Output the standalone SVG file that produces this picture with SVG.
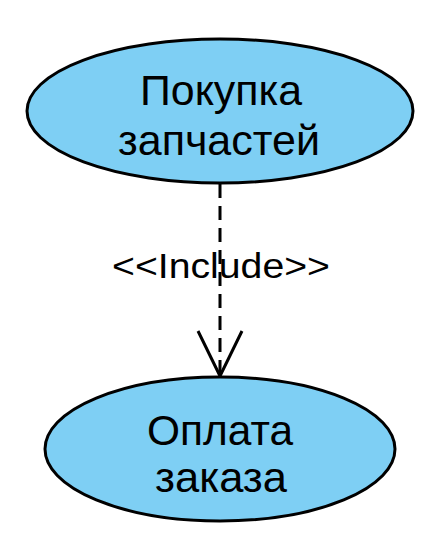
<svg xmlns="http://www.w3.org/2000/svg" width="441" height="552" viewBox="0 0 441 552">
<style>
.uc{fill:#7ecff4;stroke:#000;stroke-width:3}
.t{font-family:"Liberation Sans",Arial,sans-serif;font-size:42px;text-anchor:middle;fill:#000}
.lbl{font-family:"Liberation Sans",Arial,sans-serif;font-size:35px;text-anchor:middle;fill:#000}
.c{stroke:#000;stroke-width:3;fill:none}
</style>
<rect width="441" height="552" fill="#fff"/>
<g id="connectors">
<line class="c" x1="220" y1="184" x2="220" y2="374" stroke-dasharray="14,8"/>
<polyline class="c" points="198,331 220,376 242,331"/>
<text class="lbl" x="221" y="278" textLength="218" lengthAdjust="spacingAndGlyphs">&lt;&lt;Include&gt;&gt;</text>
</g>
<g id="node1">
<ellipse class="uc" cx="220" cy="111" rx="193" ry="72"/>
<text class="t" x="221" y="105" textLength="162" lengthAdjust="spacingAndGlyphs">Покупка</text>
<text class="t" x="219" y="155" textLength="202" lengthAdjust="spacingAndGlyphs">запчастей</text>
</g>
<g id="node2">
<ellipse class="uc" cx="220" cy="449" rx="175" ry="72"/>
<text class="t" x="220" y="445" textLength="146" lengthAdjust="spacingAndGlyphs">Оплата</text>
<text class="t" x="221" y="492" textLength="132" lengthAdjust="spacingAndGlyphs">заказа</text>
</g>
</svg>
